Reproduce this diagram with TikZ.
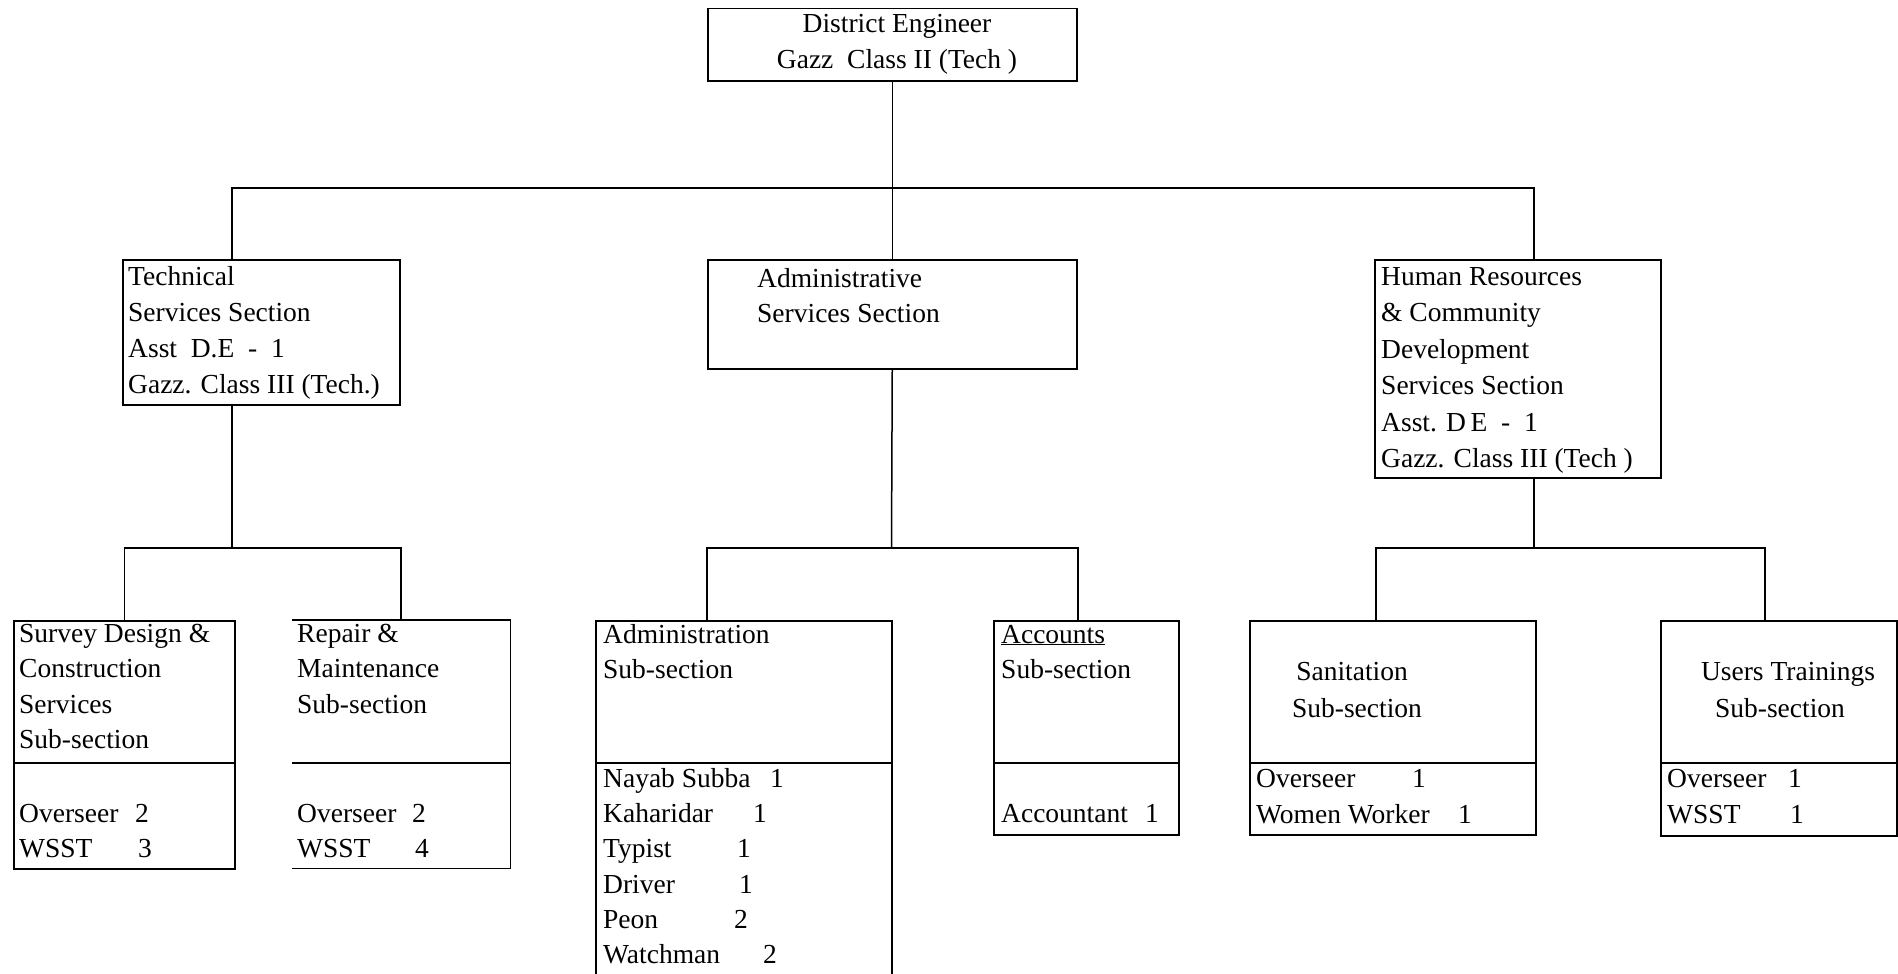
\documentclass[tikz,border=0pt]{standalone}
\usepackage{fontspec}
\setmainfont{Liberation Serif}
\newcommand{\staffline}[3]{\makebox[#1][l]{#2}#3}
\begin{document}
\begin{tikzpicture}[x=1pt,y=-1pt,
  box/.style={draw, line width=1.5pt, inner sep=0pt, anchor=north west},
  frame/.style={inner sep=0pt, anchor=north west},
  txt/.style={anchor=base west, inner sep=0pt, font=\fontsize{27.5}{33}\selectfont},
  ctxt/.style={anchor=base, inner sep=0pt, font=\fontsize{27.5}{33}\selectfont},
  link/.style={line width=1.5pt}]
\useasboundingbox (0,0) rectangle (1898,974);
\clip (0,0) rectangle (1898,974);

% ---------- boxes ----------
\node[box, minimum width=369pt, minimum height=72pt]  (de)   at (707,8)    {};
\node[box, minimum width=277pt, minimum height=145pt] (tech) at (122,259)  {};
\node[box, minimum width=369pt, minimum height=109pt] (adm)  at (707,259)  {};
\node[box, minimum width=286pt, minimum height=218pt] (hr)   at (1374,259) {};
\node[box, minimum width=221pt, minimum height=248pt] (sur)  at (13,620)   {};
\node[frame, minimum width=218pt, minimum height=248pt] (rep) at (292,620) {};
\node[box, minimum width=296pt, minimum height=380pt] (ads)  at (595,620)  {};
\node[box, minimum width=185pt, minimum height=214pt] (acc)  at (993,620)  {};
\node[box, minimum width=286pt, minimum height=214pt] (san)  at (1249,620) {};
\node[box, minimum width=236pt, minimum height=215pt] (usr)  at (1660,620) {};

% repair box: left edge missing in the reference
\draw[link] (rep.north west) -- (rep.north east) -- (rep.south east) -- (rep.south west);

% dividers
\coordinate (dv) at (0,763);
\foreach \b in {sur,rep,ads,acc,san,usr}
  \draw[link] (\b.west |- dv) -- (\b.east |- dv);

% ---------- connectors ----------
\coordinate (tj)   at (232,259);
\coordinate (hj)   at (1534,259);
\coordinate (bus1) at (891.5,188);
\draw[link] (de.south) -- (adm.north);
\draw[link] (tj) |- (bus1) -| (hj);

\coordinate (tb)   at (232,404);
\coordinate (tbus) at (232,548);
\draw[link] (tb) -- (tbus);
\draw[link] (sur.north) |- (tbus) -| (rep.north);

\coordinate (abus) at (891.5,548);
\coordinate (aj1)  at (707,620);
\coordinate (aj2)  at (1078,620);
\draw[link] (adm.south) -- (abus);
\draw[link] (aj1) |- (abus) -| (aj2);

\coordinate (hb)   at (1534,477);
\coordinate (hbus) at (1534,548);
\coordinate (hj1)  at (1376,620);
\coordinate (hj2)  at (1765,620);
\draw[link] (hb) -- (hbus);
\draw[link] (hj1) |- (hbus) -| (hj2);

% ---------- texts ----------
\node[ctxt] (de1) at (897,33) {District Engineer};
\node[ctxt] (de2) at (897,69) {Gazz\ \ Class II (Tech )};

\node[txt] (te1) at (128,285) {Technical};
\node[txt] (te2) at (128,321) {Services Section};
\node[txt] (te3) at (128,357) {Asst\ \ D.E\ \ -\ \ 1};
\node[txt] (te4) at (128,393) {Gazz. Class III (Tech.)};

\node[txt] (ad1) at (757,287) {Administrative};
\node[txt] (ad2) at (757,322) {Services Section};

\node[txt] (hr1) at (1381,285)   {Human Resources};
\node[txt] (hr2) at (1381,321.5) {\& Community};
\node[txt] (hr3) at (1381,358)   {Development};
\node[txt] (hr4) at (1381,394.5) {Services Section};
\node[txt] (hr5) at (1381,431)   {Asst. D\,E\ \ -\ \ 1};
\node[txt] (hr6) at (1381,467)   {Gazz. Class III (Tech )};

\node[txt] (su1) at (19,642)   {Survey Design \&};
\node[txt] (su2) at (19,677.5) {Construction};
\node[txt] (su3) at (19,713)   {Services};
\node[txt] (su4) at (19,748.5) {Sub-section};
\node[txt] (su5) at (19,822)   {\staffline{116pt}{Overseer}{2}};
\node[txt] (su6) at (19,857)   {\staffline{119pt}{WSST}{3}};

\node[txt] (re1) at (297,642)   {Repair \&};
\node[txt] (re2) at (297,677.5) {Maintenance};
\node[txt] (re3) at (297,713)   {Sub-section};
\node[txt] (re4) at (297,822)   {\staffline{115pt}{Overseer}{2}};
\node[txt] (re5) at (297,857)   {\staffline{118pt}{WSST}{4}};

\node[txt] (as1) at (603,643)   {Administration};
\node[txt] (as2) at (603,678)   {Sub-section};
\node[txt] (as3) at (603,787)   {\staffline{167pt}{Nayab Subba}{1}};
\node[txt] (as4) at (603,822)   {\staffline{150pt}{Kaharidar}{1}};
\node[txt] (as5) at (603,857.5) {\staffline{134pt}{Typist}{1}};
\node[txt] (as6) at (603,893)   {\staffline{136pt}{Driver}{1}};
\node[txt] (as7) at (603,928)   {\staffline{131pt}{Peon}{2}};
\node[txt] (as8) at (603,963)   {\staffline{160pt}{Watchman}{2}};

\node[txt] (ac1) at (1001,643) {\underline{Accounts}};
\node[txt] (ac2) at (1001,678) {Sub-section};
\node[txt] (ac3) at (1001,822) {\staffline{144pt}{Accountant}{1}};

\node[ctxt] (sa1) at (1352,680) {Sanitation};
\node[ctxt] (sa2) at (1357,717) {Sub-section};
\node[txt]  (sa3) at (1256,787) {\staffline{156pt}{Overseer}{1}};
\node[txt]  (sa4) at (1256,823) {\staffline{202pt}{Women Worker}{1}};

\node[ctxt] (us1) at (1788,680) {Users Trainings};
\node[ctxt] (us2) at (1780,717) {Sub-section};
\node[txt]  (us3) at (1667,787) {\staffline{121pt}{Overseer}{1}};
\node[txt]  (us4) at (1667,823) {\staffline{123pt}{WSST}{1}};
\end{tikzpicture}
\end{document}
